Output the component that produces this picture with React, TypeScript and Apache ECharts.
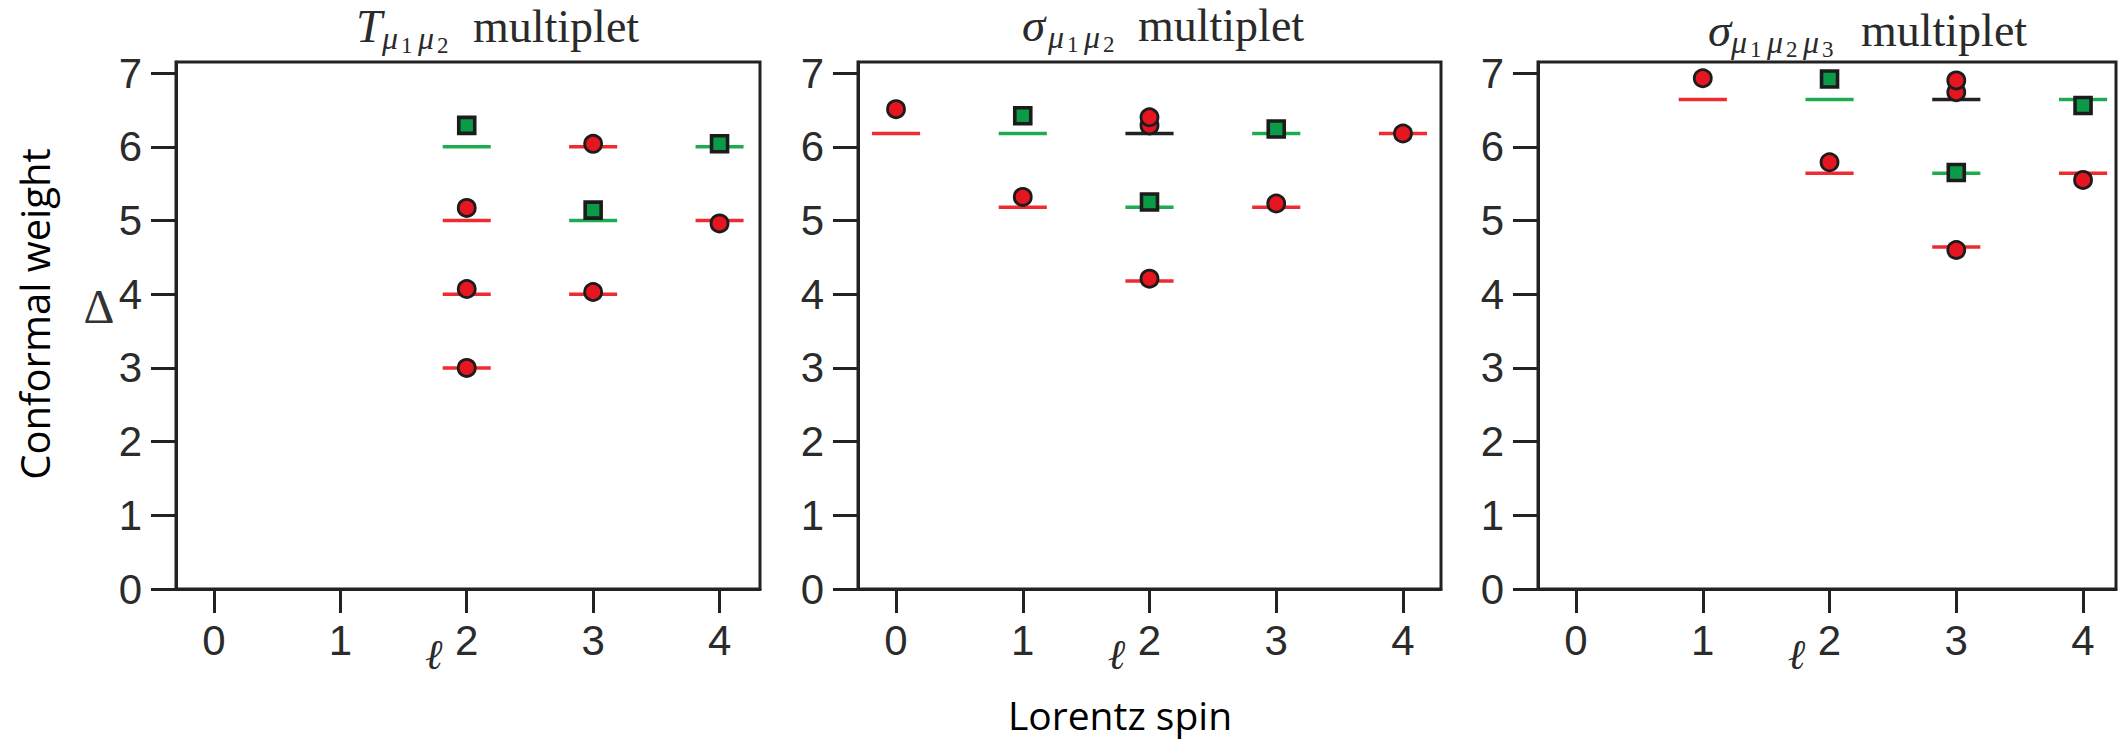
import React, { useEffect, useRef } from "react";
import * as echarts from "echarts";

// ---------- data ----------
const SPIN_TICKS = [0, 1, 2, 3, 4];
const DELTA_TICKS = [0, 1, 2, 3, 4, 5, 6, 7];

// level dashes: [spin, Δ, colour code] (0 red, 1 green, 2 black)
const T_LEVELS = [
  [2, 6, 1], [2, 5, 0], [2, 4, 0], [2, 3, 0],
  [3, 6, 0], [3, 5, 1], [3, 4, 0],
  [4, 6, 1], [4, 5, 0],
];
const T_CIRCLES = [[2, 5.17], [2, 4.07], [2, 3.0], [3, 6.04], [3, 4.03], [4, 4.96]];
const T_SQUARES = [[2, 6.29], [3, 5.14], [4, 6.04]];

const S2_LEVELS = [
  [0, 6.18, 0],
  [1, 6.18, 1], [1, 5.18, 0],
  [2, 6.18, 2], [2, 5.18, 1], [2, 4.18, 0],
  [3, 6.18, 1], [3, 5.18, 0],
  [4, 6.18, 0],
];
const S2_CIRCLES = [[0, 6.51], [1, 5.32], [2, 6.29], [2, 6.4], [2, 4.21], [3, 5.23], [4, 6.18]];
const S2_SQUARES = [[1, 6.42], [2, 5.25], [3, 6.24]];

const S3_LEVELS = [
  [1, 6.64, 0],
  [2, 6.64, 1], [2, 5.64, 0],
  [3, 6.64, 2], [3, 5.64, 1], [3, 4.64, 0],
  [4, 6.64, 1], [4, 5.64, 0],
];
const S3_CIRCLES = [[1, 6.93], [2, 5.79], [3, 6.74], [3, 6.9], [3, 4.6], [4, 5.55]];
const S3_SQUARES = [[2, 6.92], [3, 5.65], [4, 6.56]];

const TITLE_SYMBOLS = ["T", "σ", "σ"];
const TITLE_SUB_COUNTS = [2, 2, 3];
const TITLE_WORD = "multiplet";
const Y_TITLE = "Conformal weight";
const X_TITLE = "Lorentz spin";
const Y_SYMBOL = "Δ";
const X_SYMBOL = "ℓ";

// ---------- layout / style ----------
const LEVEL_COLORS = ["#ee2b30", "#1fab4f", "#222222"];
const RED_FILL = "#e5161f";
const GREEN_FILL = "#0b9a47";
const EDGE = "#1c1c1c";
const DASH_HALF = 0.19;

const PANELS = [
  { left: 176, width: 584, xMin: -0.3, xMax: 4.32, titleX: 356, titleBase: 42, wordX: 473, subX: 382 },
  { left: 858, width: 583, xMin: -0.3, xMax: 4.3, titleX: 1022, titleBase: 41, wordX: 1138, subX: 1048 },
  { left: 1538, width: 578, xMin: -0.3, xMax: 4.26, titleX: 1708, titleBase: 46, wordX: 1861, subX: 1731 },
];
const GRID_TOP = 62;
const GRID_H = 527;
const Y_MAX = 7.15;

const LEVELS = [T_LEVELS, S2_LEVELS, S3_LEVELS];
const CIRCLES = [T_CIRCLES, S2_CIRCLES, S3_CIRCLES];
const SQUARES = [T_SQUARES, S2_SQUARES, S3_SQUARES];

function txt(text: string, x: number, y: number, size: number, family: string, opts: any = {}) {
  return {
    type: "text",
    x,
    y,
    rotation: opts.rotation || 0,
    silent: true,
    style: {
      text,
      fontSize: size,
      fontFamily: family,
      fontStyle: opts.italic ? "italic" : "normal",
      fill: opts.fill || "#2a2a2a",
      align: opts.align || "left",
      textAlign: opts.align || "left",
      verticalAlign: "middle",
      textVerticalAlign: "middle",
    },
  };
}

function buildGraphics() {
  const els: any[] = [];
  const serif = '"Liberation Serif", serif';
  PANELS.forEach((p, i) => {
    const base = p.titleBase;
    els.push(txt(TITLE_SYMBOLS[i], p.titleX, base - 16, 47, serif, { italic: true }));
    for (let k = 0; k < TITLE_SUB_COUNTS[i]; k++) {
      const sx = p.subX + k * 36;
      els.push(txt("μ", sx, base + 7 - 11, 32, serif, { italic: true }));
      els.push(txt(String(k + 1), sx + 19, base + 11 - 8, 23, serif));
    }
    els.push(txt(TITLE_WORD, p.wordX, base - 16, 46, serif));
    // ℓ next to the "2" label
    const unit = p.width / (p.xMax - p.xMin);
    const x2 = p.left + (2 - p.xMin) * unit;
    els.push(txt(X_SYMBOL, x2 - 33, 654, 42, '"DejaVu Serif", serif', { italic: true, align: "center" }));
  });
  els.push(txt(Y_SYMBOL, 99, 306, 48, '"Liberation Serif", serif', { align: "center", fill: "#333" }));
  els.push(txt(Y_TITLE, 34, 314, 40, '"Open Sans", sans-serif', { align: "center", fill: "#000", rotation: Math.PI / 2 }));
  els.push(txt(X_TITLE, 1120, 714, 39, '"Open Sans", sans-serif', { align: "center", fill: "#000" }));
  return els;
}

function buildOption() {
  const grid: any[] = [];
  const xAxis: any[] = [];
  const yAxis: any[] = [];
  const series: any[] = [];
  const axisLine = { show: true, onZero: false, lineStyle: { color: "#222", width: 3 } };
  const labelStyle = { fontSize: 42, fontFamily: '"Liberation Sans", Arial, sans-serif', color: "#2b2b2b" };
  PANELS.forEach((p, i) => {
    grid.push({
      left: p.left,
      top: GRID_TOP,
      width: p.width,
      height: GRID_H,
      show: true,
      borderColor: "#222",
      borderWidth: 3,
      backgroundColor: "transparent",
    });
    xAxis.push({
      type: "value",
      gridIndex: i,
      min: p.xMin,
      max: p.xMax,
      axisLine,
      axisTick: { show: true, inside: false, length: 24, lineStyle: { color: "#222", width: 3 }, customValues: SPIN_TICKS },
      axisLabel: { ...labelStyle, margin: 30, customValues: SPIN_TICKS },
      splitLine: { show: false },
    });
    yAxis.push({
      type: "value",
      gridIndex: i,
      min: 0,
      max: Y_MAX,
      axisLine,
      axisTick: { show: true, inside: false, length: 25, lineStyle: { color: "#222", width: 3 }, customValues: DELTA_TICKS },
      axisLabel: { ...labelStyle, margin: 34, customValues: DELTA_TICKS },
      splitLine: { show: false },
    });
    series.push({
      type: "custom",
      xAxisIndex: i,
      yAxisIndex: i,
      data: LEVELS[i],
      encode: { x: 0, y: 1 },
      clip: false,
      silent: true,
      z: 2,
      renderItem: (params: any, api: any) => {
        const x = api.value(0);
        const y = api.value(1);
        const c = api.value(2);
        const a = api.coord([x - DASH_HALF, y]);
        const b = api.coord([x + DASH_HALF, y]);
        return {
          type: "line",
          shape: { x1: a[0], y1: a[1], x2: b[0], y2: b[1] },
          style: { stroke: LEVEL_COLORS[c], lineWidth: 3.5 },
        };
      },
    });
    series.push({
      type: "scatter",
      xAxisIndex: i,
      yAxisIndex: i,
      data: CIRCLES[i],
      symbol: "circle",
      symbolSize: 17,
      silent: true,
      z: 3,
      itemStyle: { color: RED_FILL, borderColor: EDGE, borderWidth: 2.8, opacity: 1 },
    });
    series.push({
      type: "scatter",
      xAxisIndex: i,
      yAxisIndex: i,
      data: SQUARES[i],
      symbol: "rect",
      symbolSize: 16,
      silent: true,
      z: 4,
      itemStyle: { color: GREEN_FILL, borderColor: EDGE, borderWidth: 3.6, opacity: 1 },
    });
  });
  return {
    animation: false,
    backgroundColor: "#ffffff",
    grid,
    xAxis,
    yAxis,
    series,
    graphic: { elements: buildGraphics() },
  };
}

export default function App() {
  const ref = useRef<HTMLDivElement>(null);
  useEffect(() => {
    if (!ref.current) return;
    const chart = echarts.init(ref.current, null, { renderer: "svg" });
    chart.setOption(buildOption() as any);
    return () => chart.dispose();
  }, []);
  return (
    <div
      ref={ref}
      style={{ position: "fixed", left: 0, top: 0, width: 2120, height: 741, background: "#fff" }}
    />
  );
}
